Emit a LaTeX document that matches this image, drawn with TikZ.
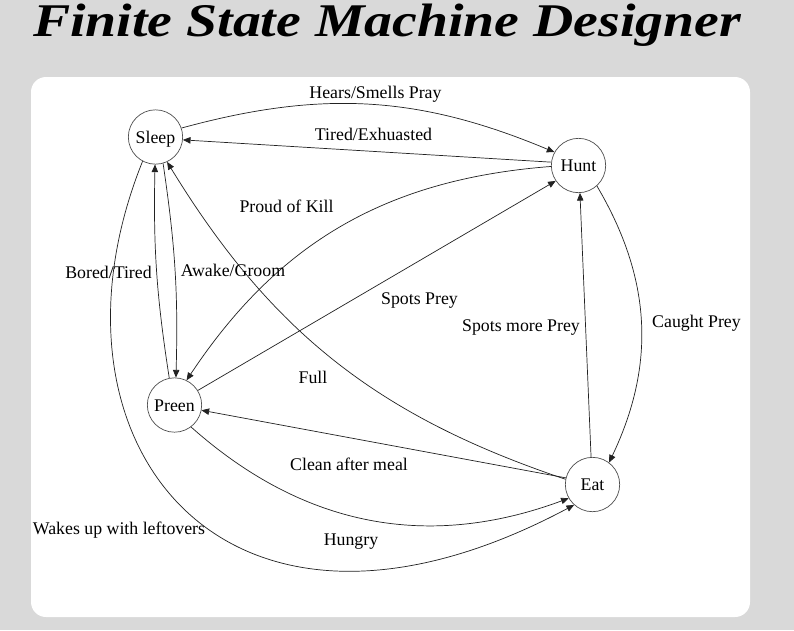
\documentclass[tikz,border=0pt]{standalone}
\usepackage{fontspec}
\setmainfont{Liberation Serif}
\newfontfamily\titlefont[FakeStretch=1.19]{Liberation Serif}
\usetikzlibrary{arrows.meta}
\definecolor{page}{HTML}{D9D9D9}
\definecolor{ink}{HTML}{222222}

\begin{document}
\begin{tikzpicture}[
  x=0.03cm, y=0.03cm,
  font=\fontsize{15.2}{18}\selectfont, >={Triangle[length=6.5pt,width=5.5pt]},
  state/.style={draw=ink!80, circle, minimum size=1.63cm, inner sep=0pt, line width=0.6pt,
                text height=10.5pt, text depth=0pt},
  edge/.style={->, draw=ink, line width=0.6pt},
  lbl/.style={anchor=base, inner sep=0pt}]
% ---------------- page and card
\fill[page] (0,0) rectangle (794,-630);
\useasboundingbox (0,0) rectangle (794,-630);
\fill[white, rounded corners=0.45cm] (31,-77) rectangle (750,-617);
\node[anchor=base west, inner sep=0pt] (title) at (33,-36)
  {\titlefont\bfseries\itshape\fontsize{40}{44}\selectfont Finite State Machine Designer};
% ---------------- states
\node[state] (sleep) at (155.5,-137)   {Sleep};
\node[state] (hunt)  at (578.5,-165.5) {Hunt};
\node[state] (preen) at (174.5,-405)   {Preen};
\node[state] (eat)   at (592.5,-484.5) {Eat};
% ---------------- transitions
\draw[edge] (sleep.19) to[bend left=19] (hunt.151);
\draw[edge] (hunt.173) -- (sleep.-6);
\draw[edge] (hunt.182) to[bend right=26] (preen.64);
\draw[edge] (preen.32) -- (hunt.214);
\draw[edge] (sleep.-74) to[bend left=5] (preen.87);
\draw[edge] (preen.101) to[bend left=5] (sleep.-91);
\draw[edge] (eat.169) to[bend left=20] (sleep.-65);
\draw[edge] (hunt.-48) to[bend left=28] (eat.53);
\draw[edge] (eat.93) -- (hunt.-87);
\draw[edge] (eat.166) -- (preen.-11);
\draw[edge] (preen.-53) to[bend right=31] (eat.210);
\draw[edge] (sleep.242) .. controls +(-112,-278) and +(-353,-188) .. (eat.228);
% ---------------- labels
\node[lbl] (lHears)  at (375.5,-98)  {Hears/Smells Pray};
\node[lbl] (lTired)  at (373.5,-140) {Tired/Exhuasted};
\node[lbl] (lProud)  at (286.5,-212.7) {Proud of Kill};
\node[lbl] (lBored)  at (108.5,-278) {Bored/Tired};
\node[lbl] (lAwake)  at (233,-276)   {Awake/Groom};
\node[lbl] (lFull)   at (313,-383)   {Full};
\node[lbl] (lSpots)  at (419.5,-304) {Spots Prey};
\node[lbl] (lMore)   at (521,-331)   {Spots more Prey};
\node[lbl] (lCaught) at (696.5,-327) {Caught Prey};
\node[lbl] (lClean)  at (349,-470)   {Clean after meal};
\node[lbl] (lWakes)  at (119,-534.3) {Wakes up with leftovers};
\node[lbl] (lHungry) at (351,-545.7) {Hungry};
\end{tikzpicture}
\end{document}
